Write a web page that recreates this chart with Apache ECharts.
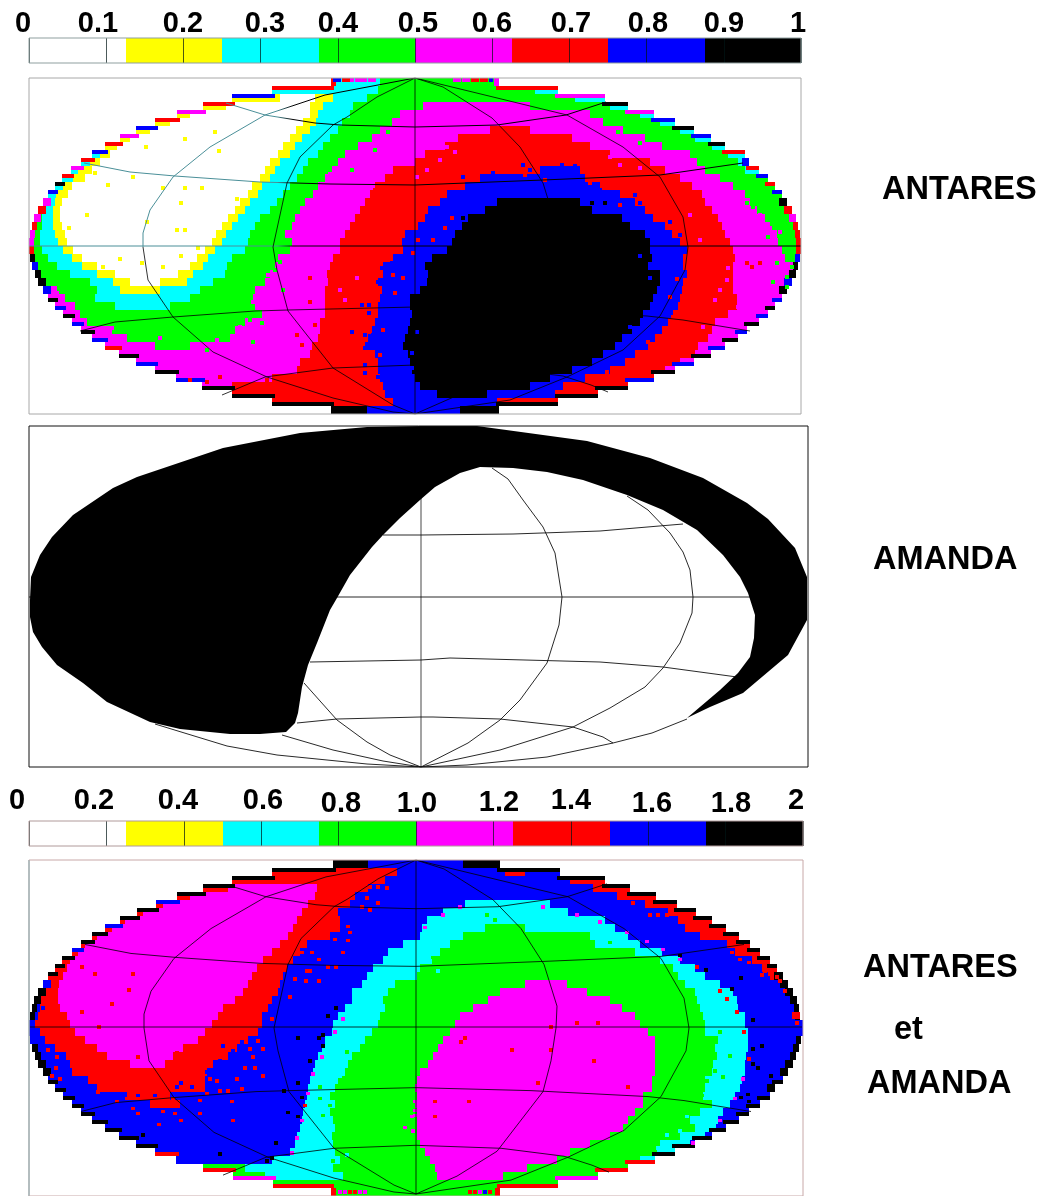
<!DOCTYPE html>
<html><head><meta charset="utf-8">
<style>html,body{margin:0;padding:0;background:#fff}#c{width:1046px;height:1196px}</style>
<script src="https://cdn.jsdelivr.net/npm/echarts@6/dist/echarts.min.js"></script>
</head><body><div id="c"></div>
<script>
// colour bands: 0 white,1 yellow,2 cyan,3 green,4 magenta,5 red,6 blue,7 black
const bandColors=['#ffffff','#ffff00','#00ffff','#00ff00','#ff00ff','#ff0000','#0000ff','#000000'];
const antaresTicks=['0','0.1','0.2','0.3','0.4','0.5','0.6','0.7','0.8','0.9','1'];
const combinedTicks=['0','0.2','0.4','0.6','0.8','1.0','1.2','1.4','1.6','1.8','2'];
const sideLabels=['ANTARES','AMANDA','ANTARES','et','AMANDA'];

// each row, top to bottom: x0,band,x1,band,...,xEnd (sky map column)
const antaresRows=[
[331,2,380,3,499],
[272,2,378,3,535,2,558],
[232,1,280,0,315,1,333,2,367,3,575,2,605],
[203,1,226,0,310,1,323,2,353,3,423,4,530,3,610,2,628],
[177,1,190,0,310,1,318,2,350,3,400,4,590,3,640,2,654],
[155,1,170,0,303,1,316,2,342,3,392,4,603,3,660,2,675],
[136,1,150,0,296,1,310,2,338,3,380,4,490,5,530,4,623,3,680,2,694],
[120,1,130,0,290,1,302,2,330,3,372,4,458,5,572,4,645,3,695,2,711],
[105,1,117,0,283,1,295,2,323,3,358,4,445,5,590,4,662,3,712,2,725],
[92,2,100,1,110,0,278,1,290,2,318,3,345,4,425,5,610,4,690,3,728,2,745],
[81,2,90,1,100,0,270,1,280,2,308,3,338,4,415,5,650,4,697,3,738,2,749],
[71,2,78,1,92,0,265,1,275,2,303,3,332,4,393,5,540,6,580,5,665,4,705,3,745,2,759],
[62,2,73,1,85,0,260,1,270,2,297,3,325,4,385,5,480,6,585,5,680,4,720,3,768],
[55,2,63,1,72,0,252,1,262,2,290,3,318,4,375,5,465,6,600,5,692,4,733,3,775],
[48,2,56,1,68,0,248,1,258,2,283,3,313,4,370,5,447,6,620,5,702,4,745,3,782],
[43,2,55,1,62,0,240,1,250,2,277,3,305,4,365,5,440,6,497,7,580,6,635,5,705,4,750,3,787],
[38,3,45,2,53,1,60,0,235,1,245,2,270,3,300,4,360,5,428,6,485,7,592,6,645,5,712,4,757,3,792],
[34,3,42,2,53,1,60,0,228,1,238,2,260,3,295,4,355,5,425,6,468,7,622,6,653,5,718,4,765,3,796],
[32,3,42,2,53,1,62,0,222,1,232,2,255,3,292,4,350,5,418,6,462,7,630,6,665,5,722,4,770,3,798],
[30,3,40,2,55,1,65,0,216,1,226,2,250,3,285,4,345,5,405,6,455,7,645,6,672,5,725,4,777,3,800],
[29,3,40,2,58,1,67,0,212,1,222,2,248,3,292,4,340,5,402,6,452,7,650,6,680,5,730,4,778,3,801],
[29,3,42,2,63,1,73,0,205,1,215,2,245,3,290,4,340,5,403,6,447,7,650,6,687,5,733,4,782,3,801],
[30,3,48,2,72,1,82,0,197,1,208,2,232,3,278,4,333,5,393,6,432,7,652,6,683,5,735,4,785,3,800],
[32,3,57,2,82,1,97,0,190,1,203,2,227,3,275,4,330,5,383,6,425,7,648,6,683,5,733,4,798],
[35,3,70,2,97,1,115,0,178,1,193,2,225,3,270,4,327,5,383,6,428,7,660,6,687,5,733,4,796],
[38,3,90,2,113,1,130,0,160,1,187,2,213,3,265,4,328,5,378,6,427,7,660,6,683,5,733,4,792],
[43,4,57,3,97,2,120,1,160,2,200,3,255,4,325,5,382,6,420,7,657,6,682,5,733,4,787],
[48,4,65,3,95,2,190,3,253,4,325,5,380,6,410,7,653,6,680,5,737,4,782],
[55,4,75,3,115,2,170,3,255,4,325,5,378,6,410,7,650,6,678,5,737,4,775],
[63,4,80,3,262,4,325,5,378,6,412,7,643,6,673,5,728,4,768],
[72,4,87,3,245,4,320,5,375,6,410,7,640,6,668,5,715,4,759],
[81,4,112,3,235,4,320,5,372,6,408,7,632,6,662,5,712,4,747],
[92,4,127,3,230,4,318,5,368,6,405,7,622,6,655,5,708,4,738],
[105,4,155,3,190,4,312,5,365,6,403,7,615,6,648,5,698,4,725],
[119,4,310,5,375,6,408,7,603,6,635,5,695,4,711],
[136,4,300,5,378,6,410,7,592,6,625,5,680,4,694],
[155,4,297,5,378,6,412,7,572,6,610,5,665,4,675],
[176,4,272,5,380,6,415,7,550,6,585,5,654],
[202,4,232,5,383,6,420,7,530,6,563,5,628],
[232,5,385,6,437,7,487,6,555,5,598],
[272,5,393,6,497,5,558],
[331,7,367,6,460,7,499]
];
const antaresRimLeft=[5,5,6,5,4,5,6,4,5,6,5,4,5,7,6,4,5,4,5,4,4,5,7,6,7,7,6,7,6,7,6,7,6,5,7,6,7,6,7,7,7,7];
const antaresRimRight=[4,5,4,7,4,6,7,6,7,5,6,5,6,5,6,7,5,4,5,5,5,5,6,7,7,6,7,6,7,6,7,6,7,6,7,6,7,6,7,7,7,7];
// isolated cells: x,y,band
const antaresSpecks=[
[335,80,6],[339,80,6],[344,80,5],[348,80,5],[352,80,4],[357,80,4],[361,80,4],[365,80,4],[370,80,4],[374,80,4],[455,80,4],[459,80,4],[464,80,4],[468,80,4],[473,80,5],[477,80,5],[482,80,5],[486,80,5],[491,80,6],
[185,139,1],[146,147,1],[215,132,1],[219,151,1],[95,173,1],[108,185,1],[133,177,1],[163,188,1],[185,188,1],[202,188,1],[181,203,1],[87,215,1],[69,228,1],[237,199,1],[177,230,1],[185,230,1],[147,222,1],[198,248,1],[120,259,1],[181,256,1],[103,267,1],[163,267,1],[142,263,1],
[396,125,4],[403,118,4],[370,145,4],[350,165,4],[330,174,4],[310,205,4],[300,225,4],[365,150,4],[345,172,4],[378,138,4],[352,170,3],[388,132,3],[375,150,3],
[350,240,5],[362,210,5],[375,190,5],[405,175,5],[385,200,5],[395,190,5],[372,225,5],[365,238,5],[412,168,5],
[523,165,6],[562,165,6],[575,166,6],[463,177,6],[493,173,6],[510,185,6],[443,205,6],[430,218,6],[475,190,6],[600,190,6],[635,195,6],[640,203,6],[660,228,6],[680,235,6],[530,170,6],[545,172,6],[455,195,6],[670,222,6],
[525,175,5],[545,180,5],[590,183,5],[445,228,5],[433,240,5],[595,180,5],[418,240,5],[452,218,5],[620,205,5],[655,215,5],
[463,218,7],[473,218,7],[592,203,7],[605,203,7],[630,327,6],[417,332,6],[412,353,6],[412,368,6],[640,256,6],[650,278,6],
[447,147,4],[440,160,4],[427,170,4],[417,177,4],[455,152,4],[610,157,4],[640,168,4],[620,165,4],
[703,327,4],[720,290,4],[727,280,4],[738,307,4],[743,277,4],[728,268,4],[715,300,4],[700,240,4],[690,215,4],
[747,263,5],[760,263,5],[752,267,5],[683,200,5],[700,205,5],[710,215,5],
[753,207,3],[767,220,3],[747,203,3],[768,237,3],[773,282,3],[787,277,3],[792,267,3],[777,263,3],[787,287,3],[640,143,3],[613,122,3],[618,132,3],[760,215,4],[780,232,4],[770,228,4],
[253,302,4],[268,275,4],[283,290,3],[240,327,4],[217,340,4],[160,338,4],[112,328,4],[70,308,4],[78,313,4],[57,293,4],[253,342,3],[262,323,3],[250,320,3],[207,350,3],[280,262,3],[275,270,3],
[310,278,5],[310,302,5],[357,278,4],[297,335,5],[302,345,5],[220,377,5],[207,382,5],[190,380,5],[267,380,5],[345,300,4],[340,290,4],[315,325,5],[322,330,5],
[352,332,6],[365,335,6],[373,335,6],[365,348,6],[365,365,6],[365,373,6],[378,377,6],[382,268,6],[392,263,6],[378,282,6],[362,305,6],[369,305,6],[369,313,6],
[383,330,5],[380,355,5],[393,275,5],[395,293,5],[413,253,5],[403,278,5],[677,279,5],[670,297,5],[673,317,5],[648,342,5],[607,372,5],[610,377,5]
];

const combinedRows=[
[333,7,368,6,463,7,500],
[272,5,397,6,505,5,525,6,560],
[232,5,385,6,570,5,605],
[203,5,228,4,317,5,368,6,593,5,630],
[177,5,190,4,315,5,355,6,617,5,656],
[156,5,163,4,308,5,350,6,465,2,550,6,645,5,677],
[137,5,143,4,302,5,338,6,443,2,568,6,668,5,696],
[120,5,125,4,297,5,340,6,427,2,605,6,678,5,712],
[105,5,112,4,293,5,340,6,422,2,485,3,525,2,615,6,685,5,726],
[92,5,97,4,288,5,330,6,420,2,463,3,590,2,628,6,700,5,739],
[81,5,85,4,280,5,307,6,403,2,450,3,595,2,640,6,727,5,750],
[72,5,78,4,272,5,300,6,388,2,440,3,635,2,662,6,735,5,760],
[62,5,70,4,263,5,293,6,383,2,432,3,660,2,680,6,752,5,770],
[55,5,67,4,257,5,287,6,373,2,420,3,673,2,695,6,762,5,777],
[48,5,63,4,252,5,283,6,367,2,417,3,678,2,705,6,770,5,783],
[43,5,59,4,248,5,280,6,362,2,395,3,525,4,567,3,685,2,720,6,788],
[38,5,58,4,243,5,278,6,352,2,388,3,500,4,587,3,695,2,733,6,793],
[34,5,58,4,235,5,272,6,352,2,383,3,488,4,610,3,697,2,737,6,797],
[32,6,40,5,60,4,223,5,268,6,345,2,385,3,473,4,622,3,700,2,738,6,799],
[30,6,38,5,67,4,218,5,262,6,338,2,380,3,460,4,635,3,703,2,745,6,800],
[29,6,35,5,70,4,212,5,262,6,333,2,378,3,455,4,640,3,705,2,745,6,803],
[29,6,40,5,75,4,205,5,258,6,332,2,372,3,450,4,648,3,705,2,748,6,803],
[30,6,45,5,85,4,198,5,248,6,325,2,365,3,443,4,655,3,718,2,748,6,801],
[32,6,55,5,97,4,183,5,237,6,322,2,360,3,438,4,655,3,715,2,748,6,799],
[35,6,66,5,107,4,173,5,228,6,318,2,352,3,433,4,655,3,717,2,746,6,796],
[38,6,70,5,130,4,165,5,213,6,315,2,348,3,428,4,655,3,713,2,745,6,793],
[43,6,72,5,207,6,313,2,345,3,420,4,655,3,712,2,745,6,788],
[48,6,88,5,205,6,310,2,338,3,417,4,652,3,705,2,742,6,783],
[55,6,97,5,205,6,308,2,335,3,415,4,652,3,705,2,740,6,775],
[63,6,127,5,170,6,307,2,330,3,417,4,643,3,703,2,735,6,770],
[72,6,150,5,180,6,305,2,335,3,415,4,643,3,712,2,730,6,760],
[81,6,303,2,330,3,417,4,635,3,700,2,723,6,749],
[92,6,302,2,333,3,417,4,628,3,690,2,718,6,739],
[105,6,300,2,335,3,417,4,623,3,695,2,716,6,726],
[119,6,297,2,332,3,417,4,610,3,680,2,705,6,712],
[136,6,295,2,333,3,420,4,590,3,660,2,690,6,695],
[155,6,290,2,335,3,425,4,570,3,657,2,675],
[176,6,272,2,340,3,430,4,557,3,640,2,655],
[203,3,245,2,333,3,435,4,527,3,628],
[233,3,265,2,343,3,437,4,503,3,598],
[273,3,558],
[331,3,500]
];
const combinedRimLeft=[7,7,7,7,7,6,7,7,6,7,7,6,7,7,7,6,7,7,7,7,6,6,6,7,7,7,7,7,7,7,7,7,7,7,7,7,5,6,5,4,5,5];
const combinedRimRight=[7,7,7,7,7,7,7,7,7,7,7,7,7,7,7,7,7,7,7,7,6,6,7,7,7,7,7,7,7,7,7,7,7,7,7,7,7,5,5,4,5,5];
const combinedSpecks=[
[340,1194,4],[345,1194,4],[350,1194,5],[355,1194,5],[360,1194,4],[365,1194,4],[470,1194,5],[475,1194,5],[480,1194,4],[485,1194,6],[490,1194,5],
[82,968,5],[95,975,5],[133,975,5],[129,991,5],[112,1005,5],[82,1013,5],[99,1028,5],[177,1054,5],[138,1058,5],
[348,927,5],[335,940,5],[348,941,5],[302,953,5],[312,953,5],[319,960,5],[343,953,5],[328,968,5],[336,968,5],[307,972,5],[310,972,5],[295,980,5],[306,982,5],[319,982,5],[370,887,5],[378,887,5],[387,888,5],[367,898,5],[362,907,5],[370,910,5],[378,903,5],[338,923,5],[290,998,5],[350,933,5],
[245,1017,5],[253,1020,5],[272,1020,5],[258,1042,5],[250,1050,5],[263,1050,5],[253,1058,5],[255,1069,5],[245,1069,5],[263,1077,5],[237,1080,5],[242,1090,5],[228,1092,5],[220,1092,5],[210,1080,5],[217,1082,5],[207,1095,5],[200,1115,5],[232,1103,5],[233,1122,5],[181,1122,5],[159,1126,5],[175,1115,5],[163,1113,5],[153,1108,5],[138,1115,5],[133,1110,5],[117,1103,5],[127,1100,5],[143,1100,5],[190,1088,5],[173,1100,5],[200,1102,5],[48,1051,5],[57,1058,5],[52,1077,5],[60,1080,5],[56,1069,5],[98,1093,5],[115,1088,5],
[43,1009,6],[223,1047,6],[242,1043,6],[233,1052,6],[220,1062,6],[207,1073,6],[230,1078,6],[181,1084,6],[177,1088,6],[192,1088,6],[155,1097,6],[138,1097,6],
[336,1009,7],[328,1017,7],[323,1036,7],[298,1039,7],[319,1039,7],[323,1047,7],[310,1062,7],[298,1084,7],[284,1092,7],[302,1099,7],[288,1114,7],[298,1118,7],[143,1137,7],[276,1145,7],[220,1156,7],[272,1160,7],[267,1163,7],
[753,1021,7],[762,1047,7],[753,1050,7],[753,1065,7],[758,1069,7],[771,1077,7],[748,1096,7],[741,1099,7],[749,1103,7],[680,956,7],[697,968,7],[706,971,7],[741,979,7],[732,990,7],
[551,1028,5],[577,1024,5],[598,1024,5],[465,1039,5],[461,1043,5],[512,1051,5],[551,1051,5],[594,1062,5],[538,1084,5],[628,1088,5],[435,1103,5],[469,1103,5],[435,1118,5],
[794,1015,5],[798,1015,5],[794,1018,5],[798,1018,5],[797,1024,5],[633,903,5],[650,915,5],[658,915,5],[667,915,5],[749,963,5],[740,960,5],[732,953,5],[765,972,5],[770,975,5],[762,976,5],[777,978,5],[780,982,5],[785,992,5],
[460,907,4],[443,915,4],[425,928,4],[543,907,4],[577,915,4],[600,922,4],[627,933,4],[647,942,4],[663,950,4],[680,960,4],[697,968,5],[720,992,5],[727,1000,5],[737,1013,5],[744,1033,5],[749,1060,5],[743,1080,4],[735,1100,4],[720,1122,4],[693,1145,4],
[343,1020,4],[335,1033,4],[322,1058,4],[313,1075,4],[308,1095,4],[305,1107,5],[302,1122,4],[297,1140,4],[292,1155,4],
[487,915,3],[495,920,3],[453,953,3],[433,958,3],[465,963,3],[610,943,3],[607,950,3],[615,950,3],[438,972,2],[320,1100,3],[347,1053,3],[340,1077,2],[320,1088,3],[330,1107,3],[323,1117,3],[347,1157,2],[333,1163,3],
[687,1118,2],[667,1137,2],[658,1150,2],[680,1133,2],[720,1033,3],[730,1057,3],[715,1072,3],[723,1078,3],[707,1082,3],[702,1097,3],
[415,1103,4],[415,1117,4],[412,1118,4],[405,1129,4],[413,1133,4],[415,1112,4]
];

// graticule of the top map; the bottom map repeats it
const skyEquator=[[29,246],[801,246]];
const skyCentral=[[415,78],[415,414]];
const skyUp60=[[226,103],[265,115],[315,123],[340,125],[415,127],[497,125],[566,115],[606,102]];
const skyUp30=[[84,163],[130,172],[175,176],[260,182],[330,184],[415,185],[543,180],[660,175],[743,163]];
const skyDown30=[[80,331],[115,322],[173,317],[255,311],[288,310],[415,307],[530,310],[647,316],[683,320],[750,331]];
const skyDown60=[[222,395],[265,377],[333,368],[415,365],[500,368],[563,376],[591,385],[608,392]];
const skyWest60=[[415,78],[377,97],[347,117],[333,125],[300,157],[287,183],[273,247],[277,270],[288,311],[333,368],[393,405],[415,414]];
const skyWest120Up=[[415,78],[325,95],[265,115],[210,147],[173,177],[150,210],[143,233],[143,247]];
const skyWest120Down=[[143,247],[148,280],[173,317],[213,352],[267,377],[333,398],[393,412],[415,414]];
const skyEast60=[[415,78],[443,87],[492,118],[520,147],[543,183],[556,225],[555,247],[550,280],[542,311],[496,371],[456,396],[415,414]];
const skyEast120=[[415,78],[567,115],[623,147],[660,177],[683,217],[688,247],[685,270],[660,316],[623,350],[567,377],[510,400],[415,414]];

// AMANDA: outline of the invisible sky, then its graticule
const amandaBlind=[[30,600],[31,577],[40,555],[52,537],[73,515],[113,488],[137,477],[223,448],[300,433],[367,427],[421,426],[477,426],[587,441],[650,458],[703,478],[747,503],[768,519],[795,548],[807,577],[807,620],[788,655],[743,693],[710,707],[687,718],[720,690],[738,673],[750,657],[754,638],[755,615],[748,593],[740,577],[723,555],[697,530],[663,510],[627,495],[583,480],[547,472],[513,468],[480,467],[460,473],[435,487],[420,500],[400,518],[383,535],[372,547],[350,575],[337,598],[330,610],[317,643],[308,665],[302,687],[298,713],[295,723],[286,732],[260,734],[230,734],[180,729],[150,722],[107,702],[83,683],[57,665],[42,647],[33,632],[30,617]];
const amandaCurves=[
[[421,426],[421,767]],
[[29,597],[755,597]],
[[383,535],[421,535],[513,534],[600,531],[683,524]],
[[310,662],[421,660],[450,658],[600,662],[663,667],[737,677]],
[[297,723],[337,719],[420,717],[433,717],[500,719],[573,727],[603,737],[613,743]],
[[492,468],[508,479],[523,500],[543,527],[555,553],[562,597],[559,625],[547,663],[520,700],[500,720],[468,743],[421,767]],
[[627,496],[648,510],[670,533],[683,552],[690,570],[693,597],[692,613],[680,643],[663,668],[645,687],[610,708],[573,727],[500,750],[421,767]],
[[421,767],[467,765],[547,757],[613,743],[652,733],[687,719]],
[[155,724],[227,746],[277,755],[367,764],[421,767]],
[[282,735],[333,750],[383,761],[421,767]],
[[304,683],[337,720],[367,742],[390,755],[421,767]]
];

const rowCount=42;
function rowCells(rows,rimL,rimR,specks,top,rowH){
  const out=[];
  rows.forEach((row,r)=>{
    for(let i=0;i+2<row.length;i+=2){out.push([row[i],row[i+2],top+r*rowH,top+(r+1)*rowH,row[i+1]]);}
  });
  rows.forEach((row,r)=>{
    const upper=r<rowCount/2;
    const nb=rows[upper?r-1:r+1]||row;
    const x0=row[0],x1=row[row.length-1];
    const nx0=nb[0],nx1=nb[nb.length-1];
    const y0=top+r*rowH,y1=y0+rowH;
    const wL=Math.max(5,nx0-x0+3),wR=Math.max(5,x1-nx1+3);
    const thin=(w)=>w>9;
    out.push([x0,x0+wL,thin(wL)&&!upper?y0+rowH/2:y0,thin(wL)&&upper?y0+rowH/2:y1,rimL[r]]);
    out.push([x1-wR,x1,thin(wR)&&!upper?y0+rowH/2:y0,thin(wR)&&upper?y0+rowH/2:y1,rimR[r]]);
  });
  specks.forEach(s=>out.push([s[0]-2.15,s[0]+2.15,s[1]-1.9,s[1]+1.9,s[2]]));
  return out;
}
function bandRender(params,api){
  const a=api.coord([api.value(0),api.value(2)]),b=api.coord([api.value(1),api.value(3)]);
  const x=Math.round(a[0]),y=Math.round(a[1]);
  return {type:'rect',shape:{x:x,y:y,width:Math.round(b[0])-x,height:Math.round(b[1])-y},
    style:{fill:bandColors[api.value(4)]}};
}
function cellSeries(idx,data){
  return {type:'custom',xAxisIndex:idx,yAxisIndex:idx,data:data,renderItem:bandRender,silent:true,z:2,clip:true,
    encode:{x:[0,1],y:[2,3]},animation:false};
}
function curve(idx,pts,color,w,z){
  return {type:'line',xAxisIndex:idx,yAxisIndex:idx,data:pts,showSymbol:false,silent:true,z:z||5,animation:false,
    lineStyle:{color:color||'#111',width:w||0.9},clip:true};
}
function barCells(maxV){
  return bandColors.map((c,i)=>[i*maxV/8,(i+1)*maxV/8,0,1,i]);
}
const teal={type:'linear',x:0,y:0,x2:1046,y2:0,global:true,colorStops:[{offset:0,color:'#4a8f98'},{offset:0.265,color:'#4a8f98'},{offset:0.28,color:'#000'},{offset:1,color:'#000'}]};

const frames=[
 {l:29,t:38,w:772,h:25,x:[0,1],y:[0,1],b:'#8f9f9f'},
 {l:29,t:78,w:772,h:336,x:[29,801],y:[78,414],b:'#a8a8a8'},
 {l:29,t:426,w:779,h:341,x:[29,808],y:[426,767],b:'#111111'},
 {l:29,t:821,w:774,h:25,x:[0,2],y:[0,1],b:'#b09a9a'},
 {l:29,t:860,w:774,h:338,x:[29,803],y:[860,1198],b:'#c8a8a8'}
];
const grid=frames.map(f=>({left:f.l,top:f.t,width:f.w,height:f.h,show:true,borderColor:f.b,borderWidth:1,backgroundColor:'transparent',z:10}));
const xAxis=frames.map((f,i)=>{
  const isBar=i===0||i===3;
  return {type:'value',gridIndex:i,min:f.x[0],max:f.x[1],interval:isBar?f.x[1]/10:undefined,position:'bottom',
    axisLine:{show:false},splitLine:{show:isBar,lineStyle:{color:'rgba(0,20,20,0.7)',width:1}},axisTick:{show:false},axisLabel:{show:false},z:6};
});
const yAxis=frames.map((f,i)=>({type:'value',gridIndex:i,min:f.y[0],max:f.y[1],inverse:i!==0&&i!==3,show:false,axisLine:{show:false},splitLine:{show:false}}));

const series=[];
series.push(cellSeries(0,barCells(1)));
series.push(cellSeries(3,barCells(2)));
series.push(cellSeries(1,rowCells(antaresRows,antaresRimLeft,antaresRimRight,antaresSpecks,78,8)));
series.push(cellSeries(4,rowCells(combinedRows,combinedRimLeft,combinedRimRight,combinedSpecks,860,8.05)));
[skyEquator,skyUp60,skyUp30,skyWest120Up].forEach(c=>series.push(curve(1,c,teal,1)));
[skyCentral,skyDown30,skyDown60,skyWest60,skyWest120Down,skyEast60,skyEast120].forEach(c=>series.push(curve(1,c,'#000',0.8)));
[skyEquator,skyCentral,skyUp60,skyUp30,skyDown30,skyDown60,skyWest60,skyWest120Up,skyWest120Down,skyEast60,skyEast120].forEach(c=>{
  series.push(curve(4,c.map(p=>[p[0]+1,p[1]+782]),'#000',0.8));
});
series.push(curve(4,[[29,860],[29,1198]],'#5fb5bb',1.2,7));
amandaCurves.forEach((c,i)=>series.push(curve(2,c,i===0?'#666':'#111',i===0?1.2:0.9,3)));
series.push({type:'custom',xAxisIndex:2,yAxisIndex:2,silent:true,z:4,animation:false,data:[0],
  renderItem:function(params,api){
    return {type:'polygon',shape:{points:amandaBlind.map(p=>api.coord(p))},style:{fill:'#000'}};
  }});

const tickPlaceA=[[23,24],[98,24],[183,24],[265,24],[338,24],[418,24],[492,24],[571,24],[648,24],[724,24],[798,24]];
const tickPlaceB=[[17,801],[94,801],[178,801],[263,801],[341,804],[417,804],[499,803],[571,801],[652,804],[731,804],[796,801]];
const sidePlace=[[882,190],[873,560],[863,968],[894,1030],[867,1084]];
const font='"Liberation Sans",Arial,sans-serif';
const graphic=[];
antaresTicks.forEach((t,i)=>graphic.push({type:'text',x:tickPlaceA[i][0],y:tickPlaceA[i][1],silent:true,z:20,
  style:{text:t,font:'bold 29px '+font,fill:'#000',align:'center',verticalAlign:'middle'}}));
combinedTicks.forEach((t,i)=>graphic.push({type:'text',x:tickPlaceB[i][0],y:tickPlaceB[i][1],silent:true,z:20,
  style:{text:t,font:'bold 29px '+font,fill:'#000',align:'center',verticalAlign:'middle'}}));
sideLabels.forEach((t,i)=>graphic.push({type:'text',x:sidePlace[i][0],y:sidePlace[i][1],silent:true,z:20,
  style:{text:t,font:'bold 32.5px '+font,fill:'#000',align:'left',verticalAlign:'middle'}}));

const chart=echarts.init(document.getElementById('c'),null,{renderer:'canvas',width:1046,height:1196});
chart.setOption({animation:false,backgroundColor:'#fff',grid,xAxis,yAxis,series,graphic});
</script></body></html>
